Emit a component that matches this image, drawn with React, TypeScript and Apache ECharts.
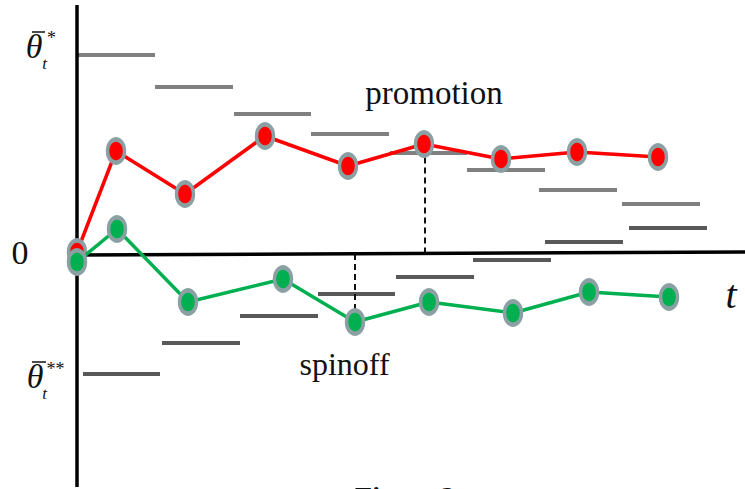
import { useEffect, useRef } from "react";
import * as echarts from "echarts";

// Decision paths (t, θ)
const promotionT = [0, 3.9, 10.8, 18.8, 27.1, 34.7, 42.4, 50.0, 58.1];
const promotionTheta = [0.3, 10.4, 6.1, 11.9, 8.9, 11.1, 9.6, 10.3, 9.8];
const spinoffT = [0, 4.0, 11.1, 20.6, 27.8, 35.2, 43.6, 51.2, 59.2];
const spinoffTheta = [-0.7, 2.6, -4.7, -2.4, -6.7, -4.7, -5.8, -3.7, -4.2];

// Upper thresholds θ̄*_t (step segments)
const upperStart = [0, 7.8, 15.7, 23.4, 31.3, 39.0, 46.2, 54.5];
const upperEnd = [7.8, 15.6, 23.4, 31.2, 39.0, 46.8, 54.0, 62.3];
const upperLevel = [20.0, 16.8, 14.1, 12.1, 10.2, 8.5, 6.5, 5.1];

// Lower thresholds θ̄**_t (step segments)
const lowerStart = [0.6, 8.5, 16.3, 24.1, 31.9, 39.6, 46.8, 55.2];
const lowerEnd = [8.3, 16.3, 24.1, 31.8, 39.7, 47.4, 54.6, 63.0];
const lowerLevel = [-11.9, -8.8, -6.1, -3.9, -2.2, -0.5, 1.3, 2.7];

// Dashed drop lines (stopping times)
const dropT = [34.8, 27.8];
const dropFrom = [0.15, 0.1];
const dropTo = [11.1, -6.7];

// Axes extents
const horizAxisT = [0, 66.8];
const horizAxisTheta = [0, 0.3];
const vertAxisT = [0, 0];
const vertAxisTheta = [-23.2, 25.0];

const SERIF = "Liberation Serif";

export default function App() {
  const ref = useRef<HTMLDivElement>(null);

  useEffect(() => {
    document.body.style.margin = "0";
    const chart = echarts.init(ref.current!, null, { renderer: "svg" });

    const segRender = (color: string) => (params: any, api: any) => {
      const a = api.coord([api.value(0), api.value(2)]);
      const b = api.coord([api.value(1), api.value(2)]);
      return {
        type: "line",
        shape: { x1: a[0], y1: a[1], x2: b[0], y2: b[1] },
        style: { stroke: color, lineWidth: 4, lineCap: "butt" },
      };
    };

    const dropRender = (params: any, api: any) => {
      const a = api.coord([api.value(0), api.value(1)]);
      const b = api.coord([api.value(0), api.value(2)]);
      return {
        type: "line",
        shape: { x1: a[0], y1: a[1], x2: b[0], y2: b[1] },
        style: { stroke: "#111", lineWidth: 2, lineDash: [6, 4] },
      };
    };

    const markerStyle = (fill: string) => ({
      color: fill,
      borderColor: "#8aa0a3",
      borderWidth: 4,
    });

    const texts: any[] = [
      { x: 434, y: 93, text: "promotion", size: 33, italic: false },
      { x: 344.5, y: 364, text: "spinoff", size: 32, italic: false },
      { x: 20, y: 252.5, text: "0", size: 34, italic: false },
      { x: 731, y: 294.5, text: "t", size: 40, italic: true },
      { x: 34, y: 46.5, text: "θ", size: 34, italic: true },
      { x: 51.5, y: 38, text: "*", size: 18, italic: false },
      { x: 44.5, y: 63.5, text: "t", size: 17, italic: true },
      { x: 35, y: 376.5, text: "θ", size: 34, italic: true },
      { x: 55.5, y: 369, text: "**", size: 18, italic: false },
      { x: 44.5, y: 393.5, text: "t", size: 17, italic: true },
    ];

    chart.setOption({
      animation: false,
      grid: { left: 0, right: 0, top: 0, bottom: 0, containLabel: false },
      xAxis: { type: "value", min: -7.7, max: 66.8, show: false },
      yAxis: { type: "value", min: -23.4, max: 25.5, show: false },
      series: [
        {
          type: "custom",
          name: "upper thresholds",
          renderItem: segRender("#808080"),
          encode: { x: [0, 1], y: 2 },
          data: upperStart.map((s, i) => [s, upperEnd[i], upperLevel[i]]),
          z: 1,
          silent: true,
        },
        {
          type: "custom",
          name: "lower thresholds",
          renderItem: segRender("#595959"),
          encode: { x: [0, 1], y: 2 },
          data: lowerStart.map((s, i) => [s, lowerEnd[i], lowerLevel[i]]),
          z: 1,
          silent: true,
        },
        {
          type: "custom",
          name: "drops",
          renderItem: dropRender,
          encode: { x: 0, y: [1, 2] },
          data: dropT.map((t, i) => [t, dropFrom[i], dropTo[i]]),
          z: 1,
          silent: true,
        },
        {
          type: "line",
          name: "time axis",
          data: horizAxisT.map((t, i) => [t, horizAxisTheta[i]]),
          symbol: "none",
          lineStyle: { color: "#000", width: 3.5 },
          z: 2,
          silent: true,
        },
        {
          type: "line",
          name: "value axis",
          data: vertAxisT.map((t, i) => [t, vertAxisTheta[i]]),
          symbol: "none",
          lineStyle: { color: "#000", width: 3.5 },
          z: 2,
          silent: true,
        },
        {
          type: "line",
          name: "promotion",
          data: promotionT.map((t, i) => [t, promotionTheta[i]]),
          symbol: "circle",
          symbolSize: [17, 23],
          showAllSymbol: true,
          lineStyle: { color: "#ff0000", width: 3.5 },
          itemStyle: markerStyle("#ff0000"),
          z: 3,
        },
        {
          type: "line",
          name: "spinoff",
          data: spinoffT.map((t, i) => [t, spinoffTheta[i]]),
          symbol: "circle",
          symbolSize: [17, 23],
          showAllSymbol: true,
          lineStyle: { color: "#00b050", width: 3.5 },
          itemStyle: markerStyle("#00b050"),
          z: 4,
        },
      ],
      graphic: [
        ...texts.map((t) => ({
          type: "text",
          x: t.x,
          y: t.y,
          silent: true,
          style: {
            text: t.text,
            fontFamily: SERIF,
            fontSize: t.size,
            fontStyle: t.italic ? "italic" : "normal",
            fill: "#111",
            align: "center",
            verticalAlign: "middle",
          },
        })),
        { type: "line", shape: { x1: 32, y1: 32, x2: 45, y2: 32 }, style: { stroke: "#111", lineWidth: 1.5 } },
        { type: "line", shape: { x1: 32, y1: 362, x2: 46, y2: 362 }, style: { stroke: "#111", lineWidth: 1.5 } },
        {
          type: "text",
          x: 405,
          y: 482,
          silent: true,
          style: {
            text: "Figure 2",
            fontFamily: SERIF,
            fontSize: 28,
            fontWeight: "bold",
            fill: "#111",
            align: "center",
            verticalAlign: "top",
          },
        },
      ],
    });

    return () => chart.dispose();
  }, []);

  return <div ref={ref} style={{ width: 745, height: 489 }} />;
}
